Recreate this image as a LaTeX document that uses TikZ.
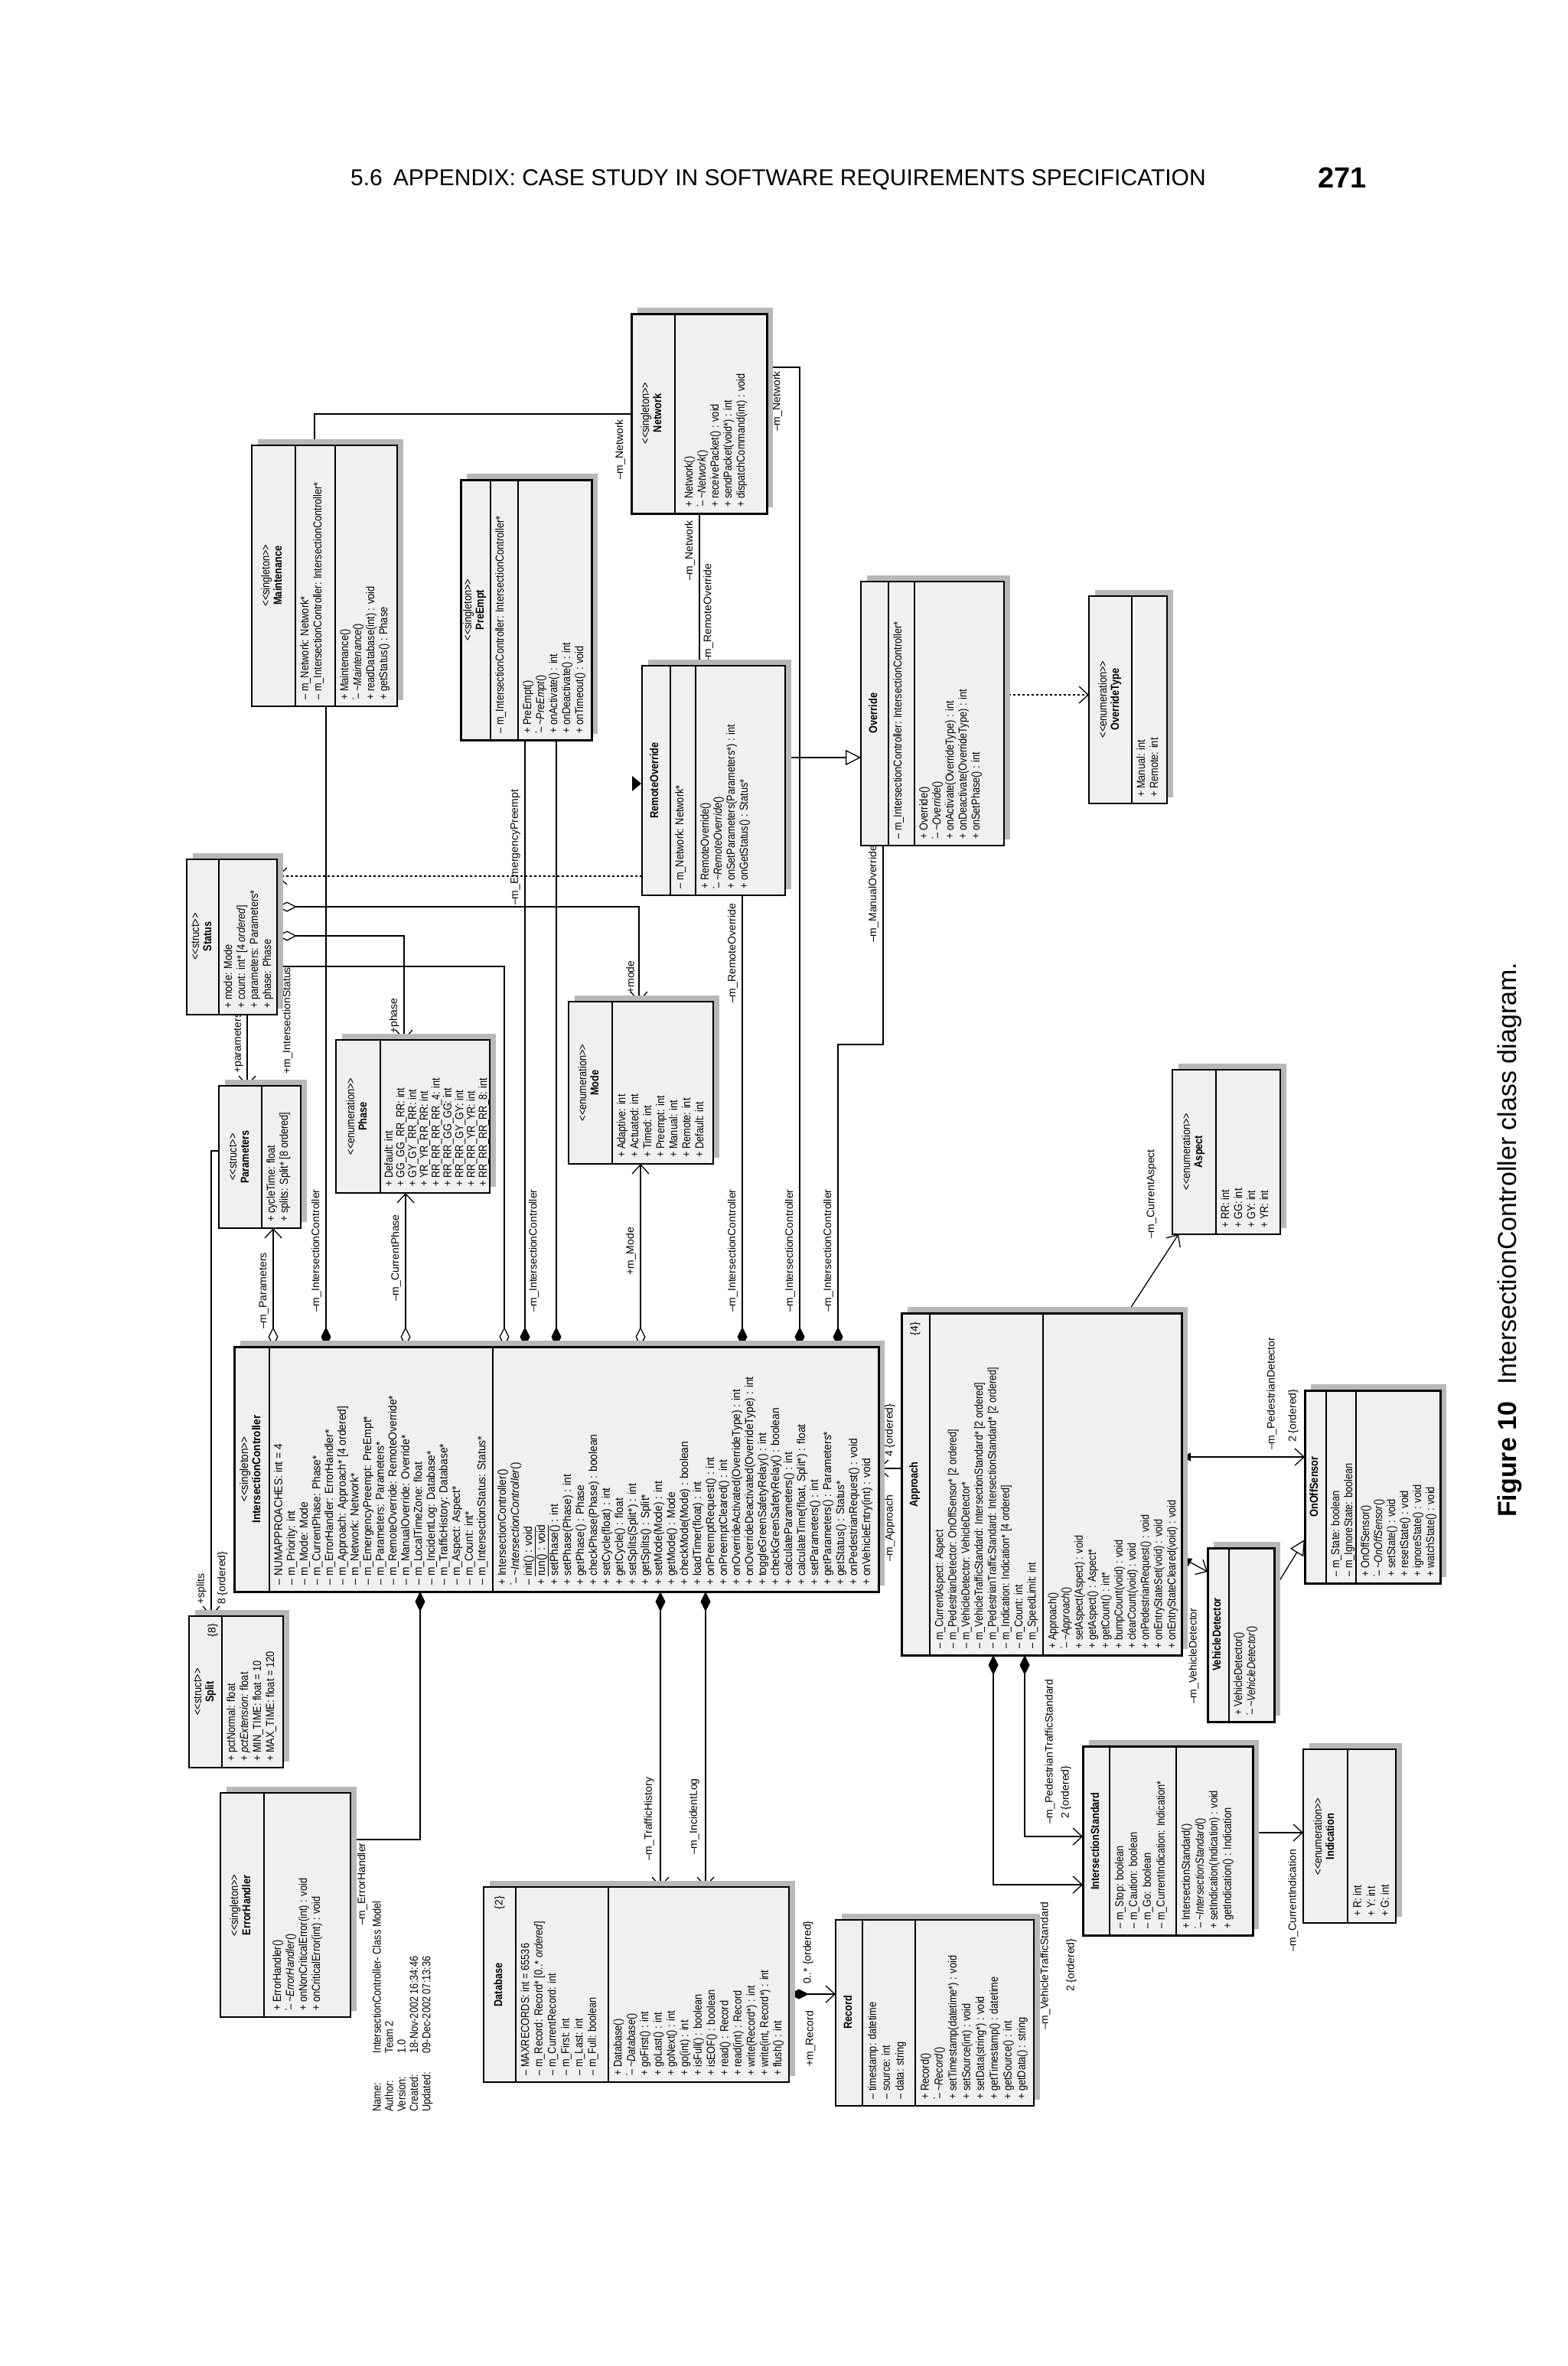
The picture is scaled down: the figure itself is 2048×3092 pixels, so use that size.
\documentclass[tikz,border=0pt]{standalone}
\usepackage{fontspec}
\usepackage{graphicx}
\usetikzlibrary{arrows.meta}
\setmainfont{Liberation Sans}
\newfontfamily\umlf{Liberation Sans}
\catcode`\_=12
\definecolor{boxc}{gray}{0.94}
\definecolor{shc}{gray}{0.72}
\newcommand\stereo[1]{<{}<#1>{}>}
\newcommand\Pl{\makebox[13pt][l]{+}}
\newcommand\Mi{\makebox[13pt][l]{\textendash}}
\newcommand\Dt{\makebox[13pt][l]{\rlap{\raisebox{.9ex}{\scriptsize*}}\hspace{2pt}\textendash}}
\newcommand\lm{\textendash}
\newcommand\umlbox[5]{%
 \fill[shc] (#1+8,#2-8) rectangle (#3+8,#4-8);
 \draw[line width=#5, fill=boxc] (#1,#2) rectangle (#3,#4);}
\newcommand\dvd[3]{\draw[line width=1.6pt] (#1,#2) -- (#1,#3);}
\newcommand\comp[5]{%
 \node[rotate=90, anchor=north west, inner sep=0pt, font=\umlf] at (#1+5,#2-8)
 {\fontsize{15}{#3}\selectfont\scalebox{#4}[1]{\begin{tabular}{@{}l@{}}#5\end{tabular}}};}
\newcommand\hdr[4]{%
 \node[rotate=90, inner sep=0pt, font=\umlf] at (#1,#2)
 {\fontsize{15}{16}\selectfont\scalebox{#3}[1]{\begin{tabular}{@{}c@{}}#4\end{tabular}}};}
\tikzset{
 FD/.tip={Diamond[length=26pt,width=13pt]},
 OD/.tip={Diamond[open,fill=white,length=26pt,width=13pt]},
 OA/.tip={Straight Barb[length=12pt,width=22pt]},
 GT/.tip={Triangle[open,fill=white,length=20pt,width=20pt]},
 FT/.tip={Triangle[length=12pt,width=11pt]},
 conn/.style={line width=1.3pt},
 lblL/.style={rotate=90, anchor=south west, inner sep=1pt, font=\umlf\fontsize{14}{15}\selectfont},
 lblR/.style={rotate=90, anchor=north west, inner sep=1pt, font=\umlf\fontsize{14}{15}\selectfont},
 lblC/.style={rotate=90, anchor=west, inner sep=1pt, font=\umlf\fontsize{14}{15}\selectfont},
}
\begin{document}
\begin{tikzpicture}[x=1pt,y=-1pt]
\useasboundingbox[fill=white] (0,0) rectangle (2048,3092);

% page header and caption
\node[anchor=west, inner sep=0pt, font=\fontsize{30}{34}\selectfont] (head) at (458,235) {5.6\hspace{14pt}APPENDIX: CASE STUDY IN SOFTWARE REQUIREMENTS SPECIFICATION};
\node[anchor=west, inner sep=0pt, font=\fontsize{38}{40}\selectfont\bfseries] (pg) at (1722,232) {271};
\node[rotate=90, anchor=west, inner sep=0pt, font=\fontsize{34}{40}\selectfont] (cap) at (1973,1983) {\textbf{Figure 10}\hspace{22pt}IntersectionController class diagram.};

% ===== connectors (drawn first) =====
\draw[conn,-OA] (323,1326) -- (323,1419);
\node[lblL] (l1) at (319,1404) {+parameters};
\draw[conn,OD-OA] (357,1760) -- (357,1605);
\node[lblL] (l2) at (352,1738) {\lm m_Parameters};
\draw[conn,OD-OA] (362,1185) -- (835,1185) -- (835,1309);
\node[lblL] (l3) at (830,1300) {+mode};
\draw[conn,OD-OA] (362,1223) -- (528,1223) -- (528,1359);
\node[lblL] (l4) at (523,1352) {+phase};
\draw[conn,-OD] (362,1263) -- (659,1263) -- (659,1760);
\node[lblR] (l5) at (368,1405) {+m_IntersectionStatus};
\draw[conn,dashed,-OA] (839,1145) -- (362,1145);
\draw[conn,OD-OA] (530,1760) -- (530,1559);
\node[lblL] (l6) at (525,1702) {\lm m_CurrentPhase};
\draw[conn,FD-] (426,1760) -- (426,923);
\node[lblL] (l7) at (421,1716) {\lm m_IntersectionController};
\draw[conn,FD-] (686,1760) -- (686,967);
\node[lblR] (l8) at (690,1716) {\lm m_IntersectionController};
\node[lblL] (l9) at (681,1184) {\lm m_EmergencyPreempt};
\draw[conn,FD-] (727,1760) -- (727,967);
\draw[conn,OD-OA] (837,1760) -- (837,1521);
\node[lblL] (l10) at (832,1668) {+m_Mode};
\draw[conn,FD-] (970,1760) -- (970,1170);
\node[lblL] (l11) at (965,1716) {\lm m_IntersectionController};
\node[lblL] (l12) at (965,1312) {\lm m_RemoteOverride};
\draw[conn,-FD] (1002,480) -- (1045,480) -- (1045,1760);
\node[lblR] (l13) at (1008,565) {\lm m_Network};
\node[lblL] (l14) at (1040,1716) {\lm m_IntersectionController};
\draw[conn,-FD] (1154,1105) -- (1154,1365) -- (1095,1365) -- (1095,1760);
\node[lblL] (l15) at (1149,1233) {\lm m_ManualOverride};
\node[lblL] (l16) at (1090,1716) {\lm m_IntersectionController};
\draw[conn] (411,582) -- (411,541) -- (825,541);
\node[lblL] (l17) at (818,628) {\lm m_Network};
\draw[conn] (914,671) -- (914,870);
\node[lblL] (l18) at (909,760) {\lm m_Network};
\node[lblR] (l19) at (918,868) {\lm m_RemoteOverride};
\draw[conn,-GT] (1026,990) -- (1125,990);
\draw[conn,dashed,-OA] (1312,908) -- (1423,908);
\fill (826,1014) -- (838,1024) -- (826,1034) -- cycle;
\draw[conn,-OA] (286,1504) -- (276,1504) -- (276,2112);
\node[lblL] (l20) at (271,2098) {+splits};
\node[lblR] (l21) at (283,2098) {8 \{ordered\}};
\draw[conn,FD-] (549,2080) -- (549,2404) -- (458,2404);
\node[lblL] (l22) at (481,2517) {\lm m_ErrorHandler};
\draw[conn,FD-OA] (863,2080) -- (863,2466);
\node[lblL] (l23) at (856,2433) {\lm m_TrafficHistory};
\draw[conn,FD-OA] (922,2080) -- (922,2466);
\node[lblL] (l24) at (915,2425) {\lm m_IncidentLog};
\draw[conn,-OA] (1178,1919) -- (1148,1919);
\node[lblC] (l25) at (1163,2042) {\lm m_Approach};
\node[lblC] (l26) at (1163,1905) {4 \{ordered\}};
\draw[conn,-OA] (1473,1716) -- (1540,1613);
\node[lblC] (l27) at (1505,1620) {\lm m_CurrentAspect};
\draw[conn,FT-OA] (1544,1904) -- (1705,1904);
\node[lblC] (l28) at (1662,1896) {\lm m_PedestrianDetector};
\node[lblC] (l29) at (1690,1886) {2 \{ordered\}};
\draw[conn,FT-OA] (1545,2036) -- (1578,2054);
\node[lblC] (l30) at (1560,2228) {\lm m_VehicleDetector};
\draw[conn,-GT] (1665,2077) -- (1705,2012);
\draw[conn,FD-OA] (1298,2163) -- (1298,2463) -- (1415,2463);
\draw[conn,FD-OA] (1339,2163) -- (1339,2400) -- (1415,2400);
\node[lblC] (l31) at (1372,2385) {\lm m_PedestrianTrafficStandard};
\node[lblC] (l32) at (1393,2378) {2 \{ordered\}};
\node[lblC] (l33) at (1366,2654) {\lm m_VehicleTrafficStandard};
\node[lblC] (l34) at (1400,2604) {2 \{ordered\}};
\draw[conn,-OA] (1637,2395) -- (1703,2395);
\node[lblC] (l35) at (1690,2552) {\lm m_CurrentIndication};
\draw[conn,FD-OA] (1031,2606) -- (1092,2606);
\node[lblC] (l36) at (1056,2594) {0..* \{ordered\}};
\node[lblC] (l37) at (1059,2702) {+m_Record};

% ===== classes =====
% IntersectionController
\umlbox{306}{1760}{1148}{2080}{3pt}
\dvd{352}{1760}{2080}\dvd{644}{1760}{2080}
\hdr{329}{1920}{0.9}{\stereo{singleton}\\\textbf{IntersectionController}}
\comp{352}{2080}{16.6}{0.92}{\Mi NUMAPPROACHES: int = 4\\\Mi m_Priority: int\\\Mi m_Mode: Mode\\\Mi m_CurrentPhase: Phase*\\\Mi m_ErrorHandler: ErrorHandler*\\\Mi m_Approach: Approach* [4 ordered]\\\Mi m_Network: Network*\\\Mi m_EmergencyPreempt: PreEmpt*\\\Mi m_Parameters: Parameters*\\\Mi m_RemoteOverride: RemoteOverride*\\\Mi m_ManualOverride: Override*\\\Mi m_LocalTimeZone: float\\\Mi m_IncidentLog: Database*\\\Mi m_TrafficHistory: Database*\\\Mi m_Aspect: Aspect*\\\Mi m_Count: int*\\\Mi m_IntersectionStatus: Status*\\}
\comp{644}{2080}{17}{0.92}{\Pl IntersectionController()\\\Dt\textit{\textasciitilde IntersectionController}()\\\Mi\underline{init() : void}\\\Pl\underline{run() : void}\\\Pl setPhase() : int\\\Pl setPhase(Phase) : int\\\Pl getPhase() : Phase\\\Pl checkPhase(Phase) : boolean\\\Pl setCycle(float) : int\\\Pl getCycle() : float\\\Pl setSplits(Split*) : int\\\Pl getSplits() : Split*\\\Pl setMode(Mode) : int\\\Pl getMode() : Mode\\\Pl checkMode(Mode) : boolean\\\Pl loadTimer(float) : int\\\Pl onPreemptRequest() : int\\\Pl onPreemptCleared() : int\\\Pl onOverrideActivated(OverrideType) : int\\\Pl onOverrideDeactivated(OverrideType) : int\\\Pl toggleGreenSafetyRelay() : int\\\Pl checkGreenSafetyRelay() : boolean\\\Pl calculateParameters() : int\\\Pl calculateTime(float, Split*) : float\\\Pl setParameters() : int\\\Pl getParameters() : Parameters*\\\Pl getStatus() : Status*\\\Pl onPedestrianRequest() : void\\\Pl onVehicleEntry(int) : void\\}

% Approach
\umlbox{1178}{1716}{1544}{2163}{3pt}
\dvd{1215}{1716}{2163}\dvd{1363}{1716}{2163}
\hdr{1196}{1940}{0.85}{\textbf{Approach}}
\node[rotate=90, anchor=east, inner sep=0pt, font=\umlf\fontsize{14}{15}\selectfont] (a4) at (1196,1728) {\{4\}};
\comp{1215}{2163}{17.3}{0.84}{\Mi m_CurrentAspect: Aspect\\\Mi m_PedestrianDetector: OnOffSensor* [2 ordered]\\\Mi m_VehicleDetector: VehicleDetector*\\\Mi m_VehicleTrafficStandard: IntersectionStandard* [2 ordered]\\\Mi m_PedestrianTrafficStandard: IntersectionStandard* [2 ordered]\\\Mi m_Indication: Indication* [4 ordered]\\\Mi m_Count: int\\\Mi m_SpeedLimit: int\\}
\comp{1363}{2163}{17.3}{0.84}{\Pl Approach()\\\Dt\textit{\textasciitilde Approach}()\\\Pl setAspect(Aspect) : void\\\Pl getAspect() : Aspect*\\\Pl getCount() : int*\\\Pl bumpCount(void) : void\\\Pl clearCount(void) : void\\\Pl onPedestrianRequest() : void\\\Pl onEntryStateSet(void) : void\\\Pl onEntryStateCleared(void) : void\\}

% Maintenance
\umlbox{329}{582}{519}{923}{2pt}
\dvd{386}{582}{923}\dvd{438}{582}{923}
\hdr{357}{752}{0.85}{\stereo{singleton}\\\textbf{Maintenance}}
\comp{386}{923}{17}{0.85}{\Mi m_Network: Network*\\\Mi m_IntersectionController: IntersectionController*\\}
\comp{438}{923}{17}{0.85}{\Pl Maintenance()\\\Dt\textit{\textasciitilde Maintenance}()\\\Pl readDatabase(int) : void\\\Pl getStatus() : Phase\\}

% PreEmpt
\umlbox{602}{627}{773}{967}{3pt}
\dvd{641}{627}{967}\dvd{677}{627}{967}
\hdr{621}{797}{0.85}{\stereo{singleton}\\\textbf{PreEmpt}}
\comp{641}{967}{17}{0.85}{\Mi m_IntersectionController: IntersectionController*\\}
\comp{677}{967}{17}{0.85}{\Pl PreEmpt()\\\Dt\textit{\textasciitilde PreEmpt}()\\\Pl onActivate() : int\\\Pl onDeactivate() : int\\\Pl onTimeout() : void\\}

% Network
\umlbox{825}{410}{1002}{671}{3pt}
\dvd{882}{410}{671}
\hdr{853}{540}{0.85}{\stereo{singleton}\\\textbf{Network}}
\comp{888}{671}{17}{0.85}{\Pl Network()\\\Dt\textit{\textasciitilde Network}()\\\Pl receivePacket() : void\\\Pl sendPacket(void*) : int\\\Pl dispatchCommand(int) : void\\}

% RemoteOverride
\umlbox{839}{870}{1026}{1170}{2pt}
\dvd{876}{870}{1170}\dvd{909}{870}{1170}
\hdr{857}{1020}{0.85}{\textbf{RemoteOverride}}
\comp{876}{1170}{17}{0.85}{\Mi m_Network: Network*\\}
\comp{909}{1170}{17}{0.85}{\Pl RemoteOverride()\\\Dt\textit{\textasciitilde RemoteOverride}()\\\Pl onSetParameters(Parameters*) : int\\\Pl onGetStatus() : Status*\\}

% Override
\umlbox{1125}{760}{1312}{1105}{2pt}
\dvd{1161}{760}{1105}\dvd{1195}{760}{1105}
\hdr{1143}{932}{0.85}{\textbf{Override}}
\comp{1161}{1105}{17}{0.85}{\Mi m_IntersectionController: IntersectionController*\\}
\comp{1195}{1105}{17}{0.85}{\Pl Override()\\\Dt\textit{\textasciitilde Override}()\\\Pl onActivate(OverrideType) : int\\\Pl onDeactivate(OverrideType) : int\\\Pl onSetPhase() : int\\}

% OverrideType
\umlbox{1423}{779}{1525}{1050}{2pt}
\dvd{1479}{779}{1050}
\hdr{1451}{914}{0.85}{\stereo{enumeration}\\\textbf{OverrideType}}
\comp{1479}{1050}{17}{0.85}{\Pl Manual: int\\\Pl Remote: int\\}

% Status
\umlbox{244}{1123}{362}{1326}{2pt}
\dvd{286}{1123}{1326}
\hdr{265}{1224}{0.85}{\stereo{struct}\\\textbf{Status}}
\comp{286}{1326}{17}{0.85}{\Pl mode: Mode\\\Pl count: int* [4 \textit{ordered}]\\\Pl parameters: Parameters*\\\Pl phase: Phase\\}

% Parameters
\umlbox{286}{1419}{393}{1605}{2pt}
\dvd{342}{1419}{1605}
\hdr{314}{1512}{0.85}{\stereo{struct}\\\textbf{Parameters}}
\comp{342}{1605}{17}{0.85}{\Pl cycleTime: float\\\Pl splits: Split* [8 ordered]\\}

% Phase
\umlbox{439}{1359}{640}{1559}{2pt}
\dvd{497}{1359}{1559}
\hdr{468}{1459}{0.85}{\stereo{enumeration}\\\textbf{Phase}}
\comp{497}{1559}{15}{0.85}{\Pl Default: int\\\Pl GG_GG_RR_RR: int\\\Pl GY_GY_RR_RR: int\\\Pl YR_YR_RR_RR: int\\\Pl RR_RR_RR_RR_4: int\\\Pl RR_RR_GG_GG: int\\\Pl RR_RR_GY_GY: int\\\Pl RR_RR_YR_YR: int\\\Pl RR_RR_RR_RR_8: int\\}

% Mode
\umlbox{743}{1309}{932}{1521}{2pt}
\dvd{800}{1309}{1521}
\hdr{771}{1415}{0.85}{\stereo{enumeration}\\\textbf{Mode}}
\comp{800}{1521}{17}{0.85}{\Pl Adaptive: int\\\Pl Actuated: int\\\Pl Timed: int\\\Pl Preempt: int\\\Pl Manual: int\\\Pl Remote: int\\\Pl Default: int\\}

% Aspect
\umlbox{1532}{1398}{1673}{1613}{2pt}
\dvd{1589}{1398}{1613}
\hdr{1560}{1505}{0.85}{\stereo{enumeration}\\\textbf{Aspect}}
\comp{1589}{1613}{17}{0.85}{\Pl RR: int\\\Pl GG: int\\\Pl GY: int\\\Pl YR: int\\}

% OnOffSensor
\umlbox{1705}{1817}{1882}{2069}{3pt}
\dvd{1733}{1817}{2069}\dvd{1772}{1817}{2069}
\hdr{1719}{1943}{0.85}{\textbf{OnOffSensor}}
\comp{1733}{2069}{17}{0.85}{\Mi m_State: boolean\\\Mi m_IgnoreState: boolean\\}
\comp{1772}{2069}{17}{0.85}{\Pl OnOffSensor()\\\Dt\textit{\textasciitilde OnOffSensor}()\\\Pl setState() : void\\\Pl resetState() : void\\\Pl ignoreState() : void\\\Pl watchState() : void\\}

% VehicleDetector
\umlbox{1578}{2023}{1665}{2250}{3pt}
\dvd{1606}{2023}{2250}
\hdr{1592}{2136}{0.85}{\textbf{VehicleDetector}}
\comp{1606}{2250}{17}{0.85}{\Pl VehicleDetector()\\\Dt\textit{\textasciitilde VehicleDetector}()\\}

% Split
\umlbox{247}{2112}{370}{2310}{2pt}
\dvd{290}{2112}{2310}
\hdr{268}{2211}{0.85}{\stereo{struct}\\\textbf{Split}}
\node[rotate=90, anchor=east, inner sep=0pt, font=\umlf\fontsize{14}{15}\selectfont] (s8) at (278,2122) {\{8\}};
\comp{290}{2310}{17}{0.85}{\Pl pctNormal: float\\\Pl \textit{pctExtension:} float\\\Pl MIN_TIME: float = 10\\\Pl MAX_TIME: float = 120\\}

% ErrorHandler
\umlbox{288}{2343}{458}{2636}{2pt}
\dvd{345}{2343}{2636}
\hdr{316}{2490}{0.85}{\stereo{singleton}\\\textbf{ErrorHandler}}
\comp{350}{2636}{17}{0.85}{\Pl ErrorHandler()\\\Dt\textit{\textasciitilde ErrorHandler}()\\\Pl onNonCriticalError(int) : void\\\Pl onCriticalError(int) : void\\}

% info block
\node[rotate=90, anchor=north west, inner sep=0pt, font=\umlf\fontsize{15}{16.2}\selectfont] (info) at (486,2760)
 {\scalebox{0.85}[1]{\begin{tabular}{@{}l@{}l@{}}\makebox[90pt][l]{Name:}&IntersectionController- Class Model\\\makebox[90pt][l]{Author:}&Team 2\\\makebox[90pt][l]{Version:}&1.0\\\makebox[90pt][l]{Created:}&18-Nov-2002 16:34:46\\\makebox[90pt][l]{Updated:}&09-Dec-2002 07:13:36\\\end{tabular}}};

% Database
\umlbox{632}{2466}{1031}{2721}{2pt}
\dvd{674}{2466}{2721}\dvd{795}{2466}{2721}
\hdr{653}{2594}{0.85}{\textbf{Database}}
\node[rotate=90, anchor=east, inner sep=0pt, font=\umlf\fontsize{14}{15}\selectfont] (d2) at (653,2478) {\{2\}};
\comp{674}{2721}{17.5}{0.85}{\Mi MAXRECORDS: int = 65536\\\Mi m_Record: Record* [0..* \textit{ordered}]\\\Mi m_CurrentRecord: int\\\Mi m_First: int\\\Mi m_Last: int\\\Mi m_Full: boolean\\}
\comp{795}{2721}{17.4}{0.85}{\Pl Database()\\\Dt\textit{\textasciitilde Database}()\\\Pl goFirst() : int\\\Pl goLast() : int\\\Pl goNext() : int\\\Pl go(int) : int\\\Pl isFull() : boolean\\\Pl isEOF() : boolean\\\Pl read() : Record\\\Pl read(int) : Record\\\Pl write(Record*) : int\\\Pl write(int, Record*) : int\\\Pl flush() : int\\}

% Record
\umlbox{1092}{2509}{1351}{2752}{2pt}
\dvd{1127}{2509}{2752}\dvd{1196}{2509}{2752}
\hdr{1110}{2630}{0.85}{\textbf{Record}}
\comp{1127}{2752}{18}{0.85}{\Mi timestamp: datetime\\\Mi source: int\\\Mi data: string\\}
\comp{1196}{2752}{18}{0.85}{\Pl Record()\\\Dt\textit{\textasciitilde Record}()\\\Pl setTimestamp(datetime*) : void\\\Pl setSource(int) : void\\\Pl setData(string*) : void\\\Pl getTimestamp() : datetime\\\Pl getSource() : int\\\Pl getData() : string\\}

% IntersectionStandard
\umlbox{1415}{2282}{1637}{2529}{3pt}
\dvd{1450}{2282}{2529}\dvd{1537}{2282}{2529}
\hdr{1433}{2406}{0.85}{\textbf{IntersectionStandard}}
\comp{1450}{2529}{18}{0.85}{\Mi m_Stop: boolean\\\Mi m_Caution: boolean\\\Mi m_Go: boolean\\\Mi m_CurrentIndication: Indication*\\}
\comp{1537}{2529}{18}{0.85}{\Pl IntersectionStandard()\\\Dt\textit{\textasciitilde IntersectionStandard}()\\\Pl setIndication(Indication) : void\\\Pl getIndication() : Indication\\}

% Indication
\umlbox{1703}{2286}{1824}{2513}{2pt}
\dvd{1761}{2286}{2513}
\hdr{1732}{2400}{0.85}{\stereo{enumeration}\\\textbf{Indication}}
\comp{1761}{2513}{18}{0.85}{\Pl R: int\\\Pl Y: int\\\Pl G: int\\}
\end{tikzpicture}
\end{document}
